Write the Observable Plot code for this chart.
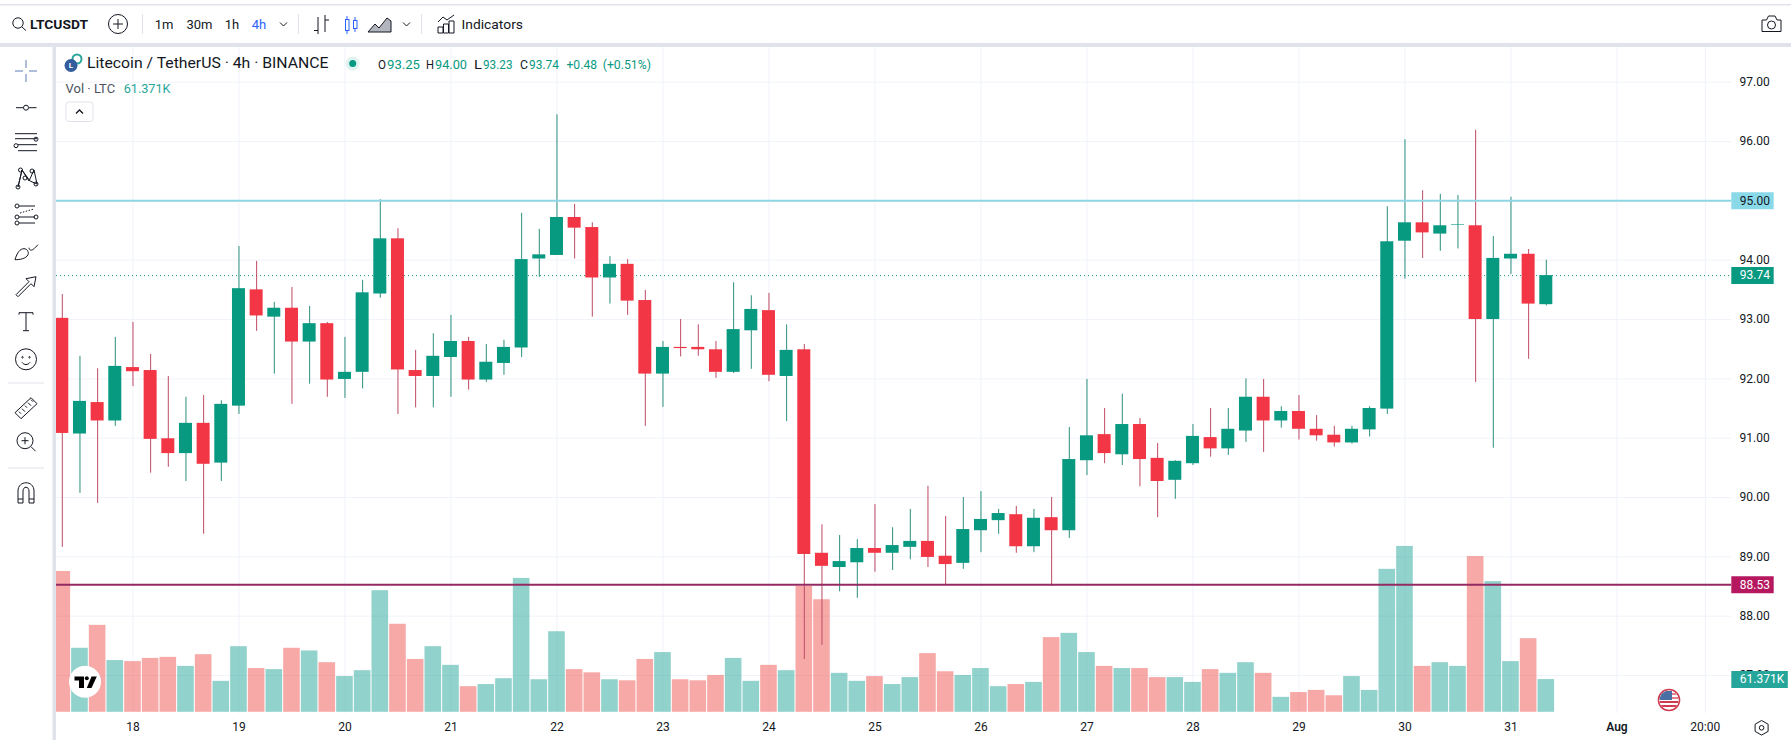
<!DOCTYPE html>
<html>
<head>
<meta charset="utf-8">
<title>LTCUSDT 4h</title>
<script src="https://cdn.jsdelivr.net/npm/d3@7"></script>
<script src="https://cdn.jsdelivr.net/npm/@observablehq/plot@0.6"></script>
<style>
  html, body { margin: 0; padding: 0; background: #fff; width: 1791px; height: 747px; overflow: hidden; }
  #chart, #chrome { position: absolute; left: 0; top: 0; }
  #chrome { pointer-events: none; }
  text { font-family: Roboto, sans-serif; }
</style>
</head>
<body>
<div id="chart"></div>
<div id="chrome"></div>
<script>
// Candle values, one entry per 4h bar, starting 17 July 08:00
const open = [93.02,91.07,91.60,91.29,92.19,92.14,90.99,90.74,91.25,90.58,91.54,93.50,93.04,93.19,92.62,92.93,91.99,92.11,93.43,94.36,92.14,92.04,92.36,92.63,91.98,92.26,92.52,94.02,94.08,94.72,94.55,93.70,93.93,93.32,92.08,92.53,92.53,92.49,92.11,92.81,93.15,92.04,92.49,89.06,88.82,88.90,89.14,89.06,89.16,89.26,89.01,88.89,89.44,89.61,89.71,89.17,89.66,89.44,90.62,91.06,90.72,91.23,90.66,90.29,90.57,91.01,90.82,91.12,91.69,91.29,91.45,91.15,91.05,90.92,91.14,91.49,94.32,94.63,94.44,94.59,94.58,93.00,94.02,94.10,93.25];
const high = [93.42,92.38,92.17,92.70,92.95,92.41,92.04,91.69,91.72,91.63,94.23,93.98,93.29,93.54,93.22,92.95,92.70,93.66,95.02,94.53,92.48,92.76,93.07,92.70,92.58,92.65,94.79,94.52,96.45,94.94,94.63,94.06,94.01,93.49,92.63,93.00,92.91,92.63,93.62,93.40,93.44,92.91,92.58,89.54,89.36,89.29,89.88,89.49,89.80,90.19,89.68,90.00,90.10,89.80,89.85,89.80,90.00,91.18,91.99,91.50,91.74,91.33,90.91,90.62,91.23,91.50,91.50,92.00,91.99,91.53,91.72,91.38,91.20,91.20,91.53,94.90,96.03,95.17,95.11,95.09,96.19,94.40,95.06,94.18,94.00];
const low = [89.16,90.07,89.90,91.20,91.87,90.41,90.51,90.27,89.38,90.27,91.40,92.80,92.08,91.57,91.91,91.69,91.67,91.83,93.36,91.40,91.51,91.51,91.69,91.81,91.94,92.06,92.36,93.71,94.08,94.02,93.04,93.26,93.07,91.20,91.52,92.37,92.38,92.01,92.09,92.16,91.95,91.28,87.27,87.51,88.41,88.30,88.74,88.77,88.95,88.82,88.53,88.79,89.07,89.38,89.06,89.07,88.50,89.31,90.37,90.57,90.54,90.18,89.66,89.97,90.54,90.68,90.71,90.93,90.76,91.17,90.97,90.95,90.85,90.90,91.02,91.40,93.68,94.03,94.15,94.19,91.94,90.83,93.76,92.33,93.23];
const close = [91.08,91.62,91.29,92.21,92.12,90.98,90.74,91.25,90.56,91.57,93.52,93.06,93.19,92.62,92.93,91.98,92.11,93.45,94.36,92.15,92.04,92.38,92.63,91.98,92.28,92.53,94.01,94.09,94.72,94.54,93.70,93.93,93.31,92.08,92.53,92.51,92.49,92.11,92.83,93.17,92.06,92.48,89.04,88.84,88.92,89.14,89.06,89.19,89.26,88.99,88.87,89.46,89.63,89.73,89.17,89.65,89.44,90.64,91.04,90.74,91.23,90.64,90.27,90.61,91.03,90.82,91.15,91.69,91.29,91.45,91.15,91.04,90.92,91.15,91.50,94.31,94.63,94.46,94.58,94.60,93.00,94.03,94.10,93.26,93.74];
// Volume in thousands of LTC
const volume = [264,120,163,97,95,101,103,86,108,58,123,82,80,120,115,93,67,78,228,165,99,123,88,48,52,63,251,61,151,80,74,61,59,99,112,61,59,69,101,58,88,78,236,211,73,58,67,52,65,110,76,69,82,48,52,56,140,148,112,86,82,82,65,65,56,80,73,93,73,28,37,41,31,67,41,268,311,86,93,86,292,245,95,138,61.371];

const startDate = Date.UTC(2023, 6, 17, 8);
const barHours = 4;
const dayNumbers = [18,19,20,21,22,23,24,25,26,27,28,29,30,31];
const priceTicks = [87,88,89,90,91,92,93,94,95,96,97];
const resistance = 95.00;
const support = 88.53;
const lastPrice = 93.74;
const lastVolume = 61.371;

const upColor = "#089981", downColor = "#f23645";
const upWick = "#2b8f7d", downWick = "#bd4a63";
const upVol = "#26a69a", downVol = "#ef5350";
const gridColor = "#f0f3fa";

const barTime = i => new Date(startDate + i * barHours * 3600000);
const rows = open.map((o, i) => ({
  t: barTime(i), i, open: o, high: high[i], low: low[i], close: close[i], volume: volume[i], up: close[i] >= o
}));

// Volume shares the pane: its bars stand on a floor below the lowest price tick
const volFloor = 86.38, pricePerK = 0.00899;

const dayTicks = dayNumbers.map(d => new Date(Date.UTC(2023, 6, d)));
const augTick = new Date(Date.UTC(2023, 7, 1));
const hourTick = new Date(Date.UTC(2023, 7, 1, 20));
const allTicks = [...dayTicks, augTick, hourTick];

const tags = [
  {price: resistance, label: "95.00", fill: "#8ad9e8", color: "#131722", bars: 96.9, weight: 400},
  {price: lastPrice, label: "93.74", fill: "#089981", color: "#fff", bars: 96.9, weight: 700},
  {price: support, label: "88.53", fill: "#b5185f", color: "#fff", bars: 96.9, weight: 700},
  {price: volFloor + lastVolume * pricePerK, label: "61.371K", fill: "#26a69a", color: "#fff", bars: 97.7, weight: 700}
];

const chart = Plot.plot({
  width: 1791, height: 747,
  marginLeft: 56, marginRight: 60, marginTop: 47, marginBottom: 34,
  style: {background: "transparent", fontFamily: "Roboto, sans-serif", overflow: "visible"},
  x: {type: "utc", domain: [barTime(0), barTime(93)], range: [61.8, 1704.8]},
  y: {domain: [87, 97], range: [675, 81.7]},
  color: {type: "identity"},
  marks: [
    Plot.gridX(allTicks, {stroke: gridColor, strokeOpacity: 1}),
    Plot.gridY(priceTicks, {stroke: gridColor, strokeOpacity: 1}),
    Plot.rect(rows, {
      x1: d => barTime(d.i - 0.47), x2: d => barTime(d.i + 0.47),
      y1: volFloor, y2: d => volFloor + d.volume * pricePerK,
      fill: d => d.up ? upVol : downVol, fillOpacity: 0.5, clip: true
    }),
    Plot.ruleY([lastPrice], {stroke: upColor, strokeWidth: 1, strokeDasharray: "1 3"}),
    Plot.ruleX(rows, {x: "t", y1: "low", y2: "high", stroke: d => d.up ? upWick : downWick, strokeWidth: 1, clip: true}),
    Plot.rect(rows, {
      x1: d => barTime(d.i - 0.368), x2: d => barTime(d.i + 0.368),
      y1: "open", y2: "close", fill: d => d.up ? upColor : downColor, clip: true
    }),
    Plot.ruleY([resistance], {stroke: "#8fd6e2", strokeWidth: 2}),
    Plot.ruleY([support], {stroke: "#942a62", strokeWidth: 2}),
    Plot.axisY(priceTicks, {anchor: "right", tickSize: 0, tickPadding: 8, fontSize: 12, color: "#131722", label: null, tickFormat: d => d.toFixed(2)}),
    Plot.axisX(dayTicks, {anchor: "bottom", tickSize: 0, tickPadding: 9, fontSize: 12, color: "#131722", label: null, tickFormat: d => String(d.getUTCDate())}),
    Plot.axisX([augTick], {anchor: "bottom", tickSize: 0, tickPadding: 9, fontSize: 12, fontWeight: 600, color: "#131722", label: null, tickFormat: () => "Aug"}),
    Plot.axisX([hourTick], {anchor: "bottom", tickSize: 0, tickPadding: 9, fontSize: 12, color: "#131722", label: null, tickFormat: () => "20:00"}),
    Plot.ruleY(tags, {y: "price", x1: () => barTime(94.5), x2: d => barTime(d.bars), stroke: "fill", strokeWidth: 17}),
    Plot.text(tags, {y: "price", x: () => barTime(94.95), text: "label", textAnchor: "start", fill: "color", fontSize: 12, fontWeight: "weight"})
  ]
});
document.getElementById("chart").appendChild(chart);

// Terminal chrome around the chart: toolbars, legend, logos
const ink = "#131722", teal = "#089981", band = "#e0e3eb", blue = "#2962ff";
const label = (x, y, s, w, o = {}) =>
  `<text x="${x}" y="${y}" dominant-baseline="central" font-size="${o.size || 13}" fill="${o.fill || ink}" font-weight="${o.weight || 400}"` +
  (o.anchor ? ` text-anchor="${o.anchor}"` : "") +
  (w ? ` textLength="${w}" lengthAdjust="spacingAndGlyphs"` : "") + `>${s}</text>`;
const ln = `fill="none" stroke="${ink}" stroke-width="1"`;
const chev = (x, y) => `<path d="M${x-3.5} ${y-1.5}l3.5 3.5l3.5-3.5" ${ln}/>`;
const sep = x => `<line x1="${x}" x2="${x}" y1="14" y2="34" stroke="${band}"/>`;
const tool = (y, body) => `<g transform="translate(26 ${y})" ${ln}>${body}</g>`;
const toolSep = y => `<line x1="8" x2="44" y1="${y}" y2="${y}" stroke="${band}"/>`;

const legendParts = [
  ["O", "93.25", 378, 420], ["H", "94.00", 426, 467], ["L", "93.23", 474, 512.5], ["C", "93.74", 520, 559]
];

document.getElementById("chrome").innerHTML = `
<svg width="1791" height="747" viewBox="0 0 1791 747" xmlns="http://www.w3.org/2000/svg">
  <defs><clipPath id="flag"><circle cx="1669" cy="700" r="9.5"/></clipPath></defs>
  <rect x="0" y="0" width="1791" height="47" fill="#fff"/>
  <rect x="0" y="4" width="1791" height="1.5" fill="${band}"/>
  <rect x="0" y="43" width="1791" height="4" fill="${band}"/>
  <rect x="0" y="47" width="52.5" height="700" fill="#fff"/>
  <rect x="52.5" y="47" width="3.5" height="693" fill="${band}"/>

  <circle cx="18" cy="23" r="5.2" ${ln} stroke-width="1.3"/><path d="M21.8 26.8L26 30.6" ${ln} stroke-width="1.3"/>
  ${label(30, 24.5, "LTCUSDT", 58, {weight: 700, size: 12.5})}
  <circle cx="118" cy="24" r="9.5" ${ln}/><path d="M118 19v10M113 24h10" ${ln}/>
  ${sep(142.5)}
  ${label(164, 24.5, "1m", 0, {anchor: "middle"})}
  ${label(199.5, 24.5, "30m", 0, {anchor: "middle"})}
  ${label(232, 24.5, "1h", 0, {anchor: "middle"})}
  ${label(259, 24.5, "4h", 0, {anchor: "middle", fill: blue})}
  ${chev(283.5, 24)}
  ${sep(298.5)}
  <path d="M314 30.5h4M318 17v17M325 15v17M325 20h4" ${ln}/>
  <g fill="none" stroke="${blue}"><rect x="345.5" y="19.5" width="3.5" height="11"/><path d="M347 16v3.500M347 30.500v3.500"/><rect x="353.5" y="20.500" width="3.500" height="8"/><path d="M355 17v3.500M355 28.500v3.500"/></g>
  <path d="M368 32l7-8l4 4l8-10l4 3v11z" fill="#b2b5be" stroke="${ink}"/>
  ${chev(406.500, 24)}
  ${sep(421.500)}
  <path d="M438 22l5-5l4 3l7-5M438 33v-6h5v6zM443.500 33v-9h5v9zM449 33v-12h5v12z" ${ln}/>
  ${label(461.500, 24.500, "Indicators", 61.500)}
  <path d="M1762 20h4.500l2-4h6.500l2 4h4v11.500h-19z" ${ln} stroke-width="1.2"/><circle cx="1771.500" cy="25" r="4" ${ln}/>

  ${tool(71, '<path d="M-11 0h8M3 0h8M0-11v8M0 3v8" stroke="#5b7fb5"/>')}
  ${tool(107.700, '<path d="M-10 0h7.500M3 0h7.500"/><circle r="2.500"/>')}
  ${tool(141.700, '<path d="M-11-8h22M-11-3h22M-8 3h19M-8 9h19"/><circle cx="10" cy="-2.500" r="2"/><circle cx="-10" cy="4" r="2"/>')}
  ${tool(178, '<path d="M-8 9L-4-8L3 3L8-8L11 6M-4-8L-8 9M-4-8L4 3L11 6"/><circle cx="-5.500" cy="-8" r="2"/><circle cx="6" cy="-7" r="2"/><circle cx="-8" cy="9" r="2"/><circle cx="10" cy="6" r="2"/><circle cx="-1" cy="0" r="2"/>')}
  ${tool(215, '<path d="M-7-9H9M-7 2H9M-7 8H9"/><path d="M-6-2L8-6" stroke-dasharray="1.500 1.500"/><circle cx="-9" cy="-9" r="2"/><circle cx="-9" cy="2" r="2"/><circle cx="-9" cy="8" r="2"/><circle cx="10" cy="2" r="2"/>')}
  ${tool(250.700, '<path d="M-11 9C-9 2-6-2-2-2C1-2 3 1 2 4C0 8-6 9-11 9zM3-3C3 0 6 0 8-2L12-6"/>')}
  ${tool(286.700, '<path d="M-10 8L3-5L0-8L10-10L8 0L5-3L-8 10z"/>')}
  ${tool(321.700, '<path d="M-7-7V-9H7V-7M0-9V9M-3 9H3"/>')}
  ${tool(359.300, '<circle r="10.500"/><circle cx="-3.500" cy="-2" r="0.700"/><circle cx="3.500" cy="-2" r="0.700"/><path d="M-4 3C-2 6 2 6 4 3"/>')}
  ${toolSep(383)}
  ${tool(407.700, '<path d="M-11 5L5-10L11-4L-5 11zM-7 4l2 2M-4 1l3 3M-1-2l2 2M2-5l3 3M5-8l2 2"/>')}
  ${tool(441.700, '<circle cx="-1" cy="-1" r="8"/><path d="M-1-4.500v7M-4.500-1h7M5-7M5 5L9.500 9.500"/>')}
  ${toolSep(468)}
  ${tool(493, '<path d="M-8 10V-2C-8-13 8-13 8-2V10H3V-2C3-7-3-7-3-2V10zM-8 6h5M3 6h5"/>')}

  <circle cx="77" cy="59" r="4.500" fill="none" stroke="#2aa59a" stroke-width="2"/>
  <circle cx="71" cy="65.500" r="6.500" fill="#345d9d"/>
  ${label(71, 65.800, "L", 0, {anchor: "middle", fill: "#fff", size: 8, weight: 700})}
  ${label(87, 63.500, "Litecoin / TetherUS · 4h · BINANCE", 241.500, {size: 14.500})}
  <circle cx="352.700" cy="63.500" r="7" fill="#089981" fill-opacity="0.12"/><circle cx="352.700" cy="63.500" r="3.500" fill="#089981"/>
  ${legendParts.map(([k, v, a, b]) =>
    label(a, 64, k, 8, {size: 12.500}) + label(a + 9, 64, v, b - a - 9, {size: 12.500, fill: teal})).join("")}
  ${label(566.500, 64, "+0.48", 30.500, {size: 12.500, fill: teal})}
  ${label(602.700, 64, "(+0.51%)", 48.300, {size: 12.500, fill: teal})}
  ${label(65.600, 88, "Vol · LTC", 49.500, {size: 12.500, fill: "#4c525e"})}
  ${label(123.700, 88, "61.371K", 46.800, {size: 12.500, fill: "#26a69a"})}
  <rect x="66" y="102" width="27" height="19.500" rx="3" fill="#fff" stroke="${band}"/>
  <path d="M76 113.500l3.500-3.500l3.500 3.500" fill="none" stroke="${ink}" stroke-width="1.300"/>

  <circle cx="85" cy="681.700" r="16" fill="#fff"/>
  <path d="M74.500 676.500H84V688H79V680.500H74.500z" fill="#000"/><circle cx="86.800" cy="678.300" r="2" fill="#000"/>
  <path d="M91.500 676.500H96.800L91.500 688H86.800z" fill="#000"/>

  <circle cx="1669" cy="700" r="10.500" fill="#fff" stroke="#cf3c4f" stroke-width="1.600"/>
  <g clip-path="url(#flag)">
    <rect x="1659" y="691" width="20" height="18" fill="#fff"/>
    <rect x="1659" y="693" width="20" height="2" fill="#e7808c"/><rect x="1659" y="697" width="20" height="2" fill="#e7808c"/>
    <rect x="1659" y="701" width="20" height="2" fill="#cf3c4f"/><rect x="1659" y="705" width="20" height="2" fill="#cf3c4f"/>
    <rect x="1659" y="691" width="13" height="9" fill="#4a6fa5"/>
  </g>
  <path d="M1761.600 720.500l6.500 3.700v7.200l-6.500 3.700l-6.500-3.700v-7.200z" ${ln}/><circle cx="1761.600" cy="727.800" r="2.300" ${ln}/>
</svg>`;
</script>
</body>
</html>
